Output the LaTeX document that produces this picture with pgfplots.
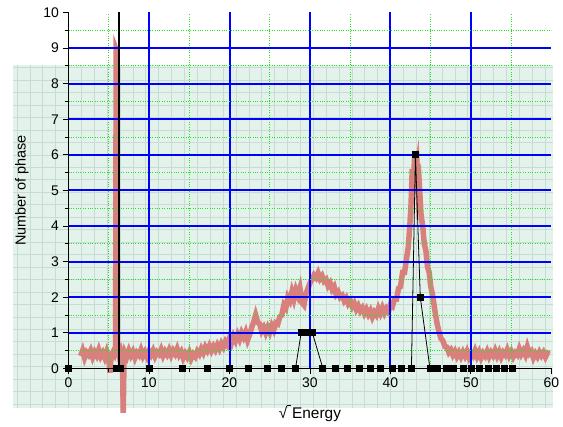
\documentclass[border=0pt]{standalone}
\usepackage{pgfplots}
\pgfplotsset{compat=1.18}
\usepackage{fontspec}
\setmainfont{Liberation Sans}
\definecolor{gridblue}{RGB}{0,0,255}
\definecolor{gridgreen}{RGB}{30,230,30}
\definecolor{paper}{RGB}{228,242,236}
\definecolor{paperline}{RGB}{200,220,212}
\definecolor{spec}{RGB}{216,128,124}

\pgfplotsset{common/.style={x=8.05bp, y=35.6bp, xmin=0, xmax=60, ymin=0, ymax=10, clip=false}}

\begin{document}
\begin{tikzpicture}
% --- back axis: faded graph paper and the measured spectrum ---
\begin{axis}[common, hide axis]
\fill[paper] (axis cs:-6.89,-1.12) rectangle (axis cs:60.2,8.52);
\pgfplotsinvokeforeach{-6.4,-4.8,...,59.6}{
  \draw[paperline, line width=0.6bp] (axis cs:#1,-1.12) -- (axis cs:#1,8.52);
}
\pgfplotsinvokeforeach{-1.0,-0.65,...,8.4}{
  \draw[paperline, line width=0.6bp] (axis cs:-6.89,#1) -- (axis cs:60.2,#1);
}
\addplot[spec, line width=5.5bp] coordinates {
(1.5,0.35)(1.75,0.5)(2.0,0.3)(2.25,0.45)(2.5,0.38)(2.75,0.5)(3.0,0.32)(3.25,0.46)
(3.5,0.36)(3.75,0.52)(4.0,0.34)(4.25,0.44)(4.5,0.3)(4.75,0.47)(5.0,0.28)(5.15,-0.12)
(5.3,0.36)(5.5,0.45)(5.7,0.38)(5.85,0.5)(5.92,8.95)(6.0,8.9)(6.08,0.6)(6.3,0.35)
(6.5,0.48)(6.7,0.3)(6.8,-1.25)(6.9,0.3)(7.0,0.45)(7.25,0.33)(7.5,0.5)(7.75,0.36)
(8.0,0.47)(8.25,0.3)(8.5,0.44)(8.75,0.37)(9.0,0.52)(9.25,0.35)(9.5,0.46)(9.75,0.33)
(10.0,0.48)(10.25,0.38)(10.5,0.5)(10.75,0.34)(11.0,0.46)(11.25,0.4)(11.5,0.53)(11.75,0.36)
(12.0,0.48)(12.25,0.39)(12.5,0.52)(12.75,0.37)(13.0,0.5)(13.25,0.41)(13.5,0.55)(13.75,0.38)
(14.0,0.47)(14.25,0.3)(14.5,0.42)(14.75,0.32)(15.0,0.45)(15.25,0.28)(15.5,0.4)(15.75,0.33)
(16.0,0.48)(16.25,0.4)(16.5,0.55)(16.75,0.44)(17.0,0.6)(17.25,0.5)(17.5,0.63)(17.75,0.5)
(18.0,0.62)(18.25,0.52)(18.5,0.66)(18.75,0.55)(19.0,0.7)(19.25,0.6)(19.5,0.75)(19.75,0.66)
(20.0,0.85)(20.25,0.72)(20.5,0.9)(20.75,0.78)(21.0,0.95)(21.25,0.82)(21.5,1.0)(21.75,0.88)
(22.0,1.02)(22.25,0.8)(22.5,0.95)(22.75,1.15)(23.0,1.3)(23.25,1.5)(23.5,1.3)(23.75,1.25)
(24.0,1.05)(24.25,1.15)(24.5,1.0)(24.75,1.15)(25.0,1.02)(25.25,1.2)(25.5,1.08)(25.75,1.28)
(26.0,1.25)(26.25,1.45)(26.5,1.5)(26.75,1.78)(27.0,1.7)(27.25,2.0)(27.5,1.9)(27.75,2.15)
(28.0,1.95)(28.25,2.2)(28.5,2.05)(28.75,2.25)(29.0,1.85)(29.25,1.78)(29.5,2.1)(29.75,2.25)
(30.0,2.4)(30.25,2.5)(30.5,2.62)(30.75,2.55)(31.0,2.68)(31.25,2.52)(31.5,2.6)(31.75,2.45)
(32.0,2.5)(32.25,2.32)(32.5,2.4)(32.75,2.22)(33.0,2.3)(33.25,2.08)(33.5,2.15)(33.75,2.0)
(34.0,2.05)(34.25,1.9)(34.5,1.98)(34.75,1.82)(35.0,1.9)(35.25,1.74)(35.5,1.83)(35.75,1.66)
(36.0,1.76)(36.25,1.62)(36.5,1.7)(36.75,1.55)(37.0,1.66)(37.25,1.52)(37.5,1.62)(37.75,1.45)
(38.0,1.58)(38.25,1.5)(38.5,1.68)(38.75,1.55)(39.0,1.7)(39.25,1.56)(39.5,1.68)(39.75,1.6)
(40.0,1.8)(40.25,1.75)(40.5,1.95)(40.75,1.95)(41.0,2.25)(41.25,2.3)(41.5,2.7)(41.75,2.7)
(42.0,3.1)(42.2,3.4)(42.4,4.0)(42.55,4.6)(42.7,5.6)(42.85,5.3)(43.0,5.95)(43.15,5.5)
(43.3,5.7)(43.45,4.9)(43.6,5.1)(43.8,4.3)(44.0,4.0)(44.2,3.5)(44.4,3.3)(44.6,2.85)
(44.8,2.7)(45.0,2.3)(45.2,2.1)(45.4,1.8)(45.6,1.5)(45.8,1.25)(46.0,1.05)(46.25,0.85)
(46.5,0.78)(46.75,0.62)(47.0,0.6)(47.25,0.45)(47.5,0.52)(47.75,0.38)(48.0,0.48)(48.25,0.34)
(48.5,0.45)(48.75,0.33)(49.0,0.46)(49.25,0.35)(49.5,0.48)(49.75,0.32)(50.0,0.44)(50.25,0.36)
(50.5,0.5)(50.75,0.34)(51.0,0.46)(51.25,0.3)(51.5,0.43)(51.75,0.35)(52.0,0.48)(52.25,0.33)
(52.5,0.45)(52.75,0.36)(53.0,0.5)(53.25,0.35)(53.5,0.47)(53.75,0.32)(54.0,0.45)(54.25,0.38)
(54.5,0.52)(54.75,0.36)(55.0,0.47)(55.25,0.33)(55.5,0.44)(55.75,0.38)(56.0,0.55)(56.25,0.4)
(56.5,0.5)(56.75,0.38)(57.0,0.6)(57.25,0.42)(57.5,0.48)(57.75,0.3)(58.0,0.42)(58.25,0.33)
(58.5,0.46)(58.75,0.36)(59.0,0.45)(59.25,0.32)(59.5,0.43)(59.75,0.4)
};
\coordinate (bbA) at (axis cs:-8.51,-1.62);
\coordinate (bbB) at (axis cs:61.43,10.35);
\end{axis}

% --- front axis: grid, ticks and the phase count ---
\begin{axis}[
  common,
  axis lines*=left,
  axis line style={line width=1.6bp, black},
  xtick={10,20,...,50}, extra x ticks={0,60},
  ytick={1,...,9}, extra y ticks={0,10},
  extra tick style={grid=none},
  minor xtick={5,15,...,55}, minor ytick={0.5,1.5,...,9.5},
  grid=both,
  major grid style={gridblue, line width=2bp},
  minor grid style={gridgreen, dotted, line width=1.1bp},
  tick align=outside,
  major tick length=6bp, minor tick length=4bp,
  tick style={black, line width=1bp},
  ticklabel style={font=\fontsize{14}{16}\selectfont},
  /pgf/number format/assume math mode=true,
  xlabel={√\kern-0.05em\rule[0.78em]{0.3em}{0.06em}\kern0.05em Energy},
  xlabel style={at={(axis description cs:0.5,-0.126)}, anchor=center, font=\fontsize{15.5}{17}\selectfont},
  ylabel={Number of phase},
  ylabel style={at={(axis description cs:-0.0963,0.5)}, anchor=center, font=\fontsize{14.5}{16}\selectfont},
]
\addplot[black, line width=0.8bp, mark=square*, mark size=3bp] coordinates {
(0,0)(6.0,0)(6.5,0)(10,0)(14.1,0)(17.3,0)(20,0)(22.3,0)(24.7,0)(26.5,0)(28.2,0)
(28.9,1)(29.6,1)(30.3,1)(31.6,0)(33.2,0)(34.7,0)(36.1,0)(37.5,0)(38.7,0)(40.2,0)
(41.4,0)(42.6,0)(43.1,6)(43.7,2)(44.9,0)(45.8,0)(46.9,0)(47.8,0)(49.0,0)(50.1,0)
(51.1,0)(52.1,0)(53.2,0)(54.2,0)(55.1,0)
};
\addplot[black, line width=2bp] coordinates {(6.3,0)(6.3,10)};
\end{axis}
\pgfresetboundingbox
\path[use as bounding box] (bbA) rectangle (bbB);
\end{tikzpicture}
\end{document}
